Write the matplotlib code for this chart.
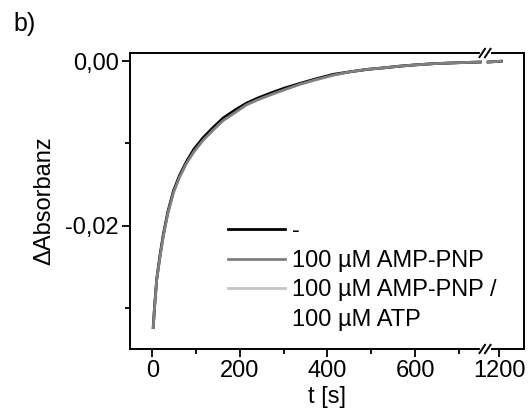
import numpy as np
import matplotlib
matplotlib.use("Agg")
import matplotlib.pyplot as plt
from matplotlib.lines import Line2D
from matplotlib.ticker import FixedLocator, FuncFormatter

plt.rcParams['font.family'] = ['Liberation Sans', 'DejaVu Sans']

# Zeitachse [s] (Teil vor dem Achsenbruch)
t_main = [2, 5, 10, 18, 25, 35, 48, 62, 78, 95, 116, 140, 162, 190, 215, 240,
          269, 300, 337, 370, 413, 450, 490, 530, 566, 600, 642, 700, 749]
# Teil nach dem Achsenbruch
t_end = [1175, 1190, 1205]

# Delta Absorbanz
y_ctrl = [-0.0324, -0.0299, -0.0265, -0.0234, -0.0211, -0.0184, -0.0158, -0.0139,
          -0.0122, -0.0107, -0.0093, -0.0080, -0.0069, -0.0059, -0.0051, -0.0045,
          -0.0039, -0.0033, -0.0027, -0.0022, -0.0016, -0.0013, -0.0010, -0.0008,
          -0.0006, -0.00045, -0.0003, -0.00018, -0.0001]
y_amp = [-0.0324, -0.0300, -0.0266, -0.0236, -0.0213, -0.0186, -0.0160, -0.0141,
         -0.0124, -0.0110, -0.0096, -0.0083, -0.0072, -0.0062, -0.0053, -0.0047,
         -0.0041, -0.0035, -0.0028, -0.0023, -0.0017, -0.0013, -0.0010, -0.0008,
         -0.0006, -0.00045, -0.0003, -0.00018, -0.0001]
y_atp = [-0.0324, -0.0300, -0.0266, -0.0236, -0.0213, -0.0186, -0.0160, -0.0141,
         -0.0124, -0.0110, -0.0096, -0.0083, -0.0072, -0.0062, -0.0053, -0.0047,
         -0.0041, -0.0035, -0.0028, -0.0023, -0.0017, -0.0013, -0.0010, -0.0008,
         -0.0006, -0.00045, -0.0003, -0.00018, -0.0001]
y_ctrl_end = [-0.0001, -0.00005, 0.0]
y_amp_end = [-0.0001, -0.00005, 0.0]
y_atp_end = [-0.0001, -0.00005, 0.0]

labels = ["-", "100 µM AMP-PNP", "100 µM AMP-PNP /", "100 µM ATP"]
x_major = [0, 200, 400, 600, 1200]
x_minor = [100, 300, 500, 700]


# gebrochene x-Achse: 760 s ... 1170 s wird zusammengestaucht
def fwd(t):
    t = np.asarray(t, dtype=float)
    return np.where(t <= 760, t, np.where(t < 1170, 760 + (t - 760) * 2 / 410, t - 408))


def inv(u):
    u = np.asarray(u, dtype=float)
    return np.where(u <= 760, u, np.where(u < 762, 760 + (u - 760) * 410 / 2, u + 408))


fs = 17
fig = plt.figure(figsize=(5.3, 4.13), dpi=100)
ax = fig.add_axes([0.2453, 0.155, 0.7434, 0.7167])
ax.set_xscale('function', functions=(fwd, inv))

lw = 2.0
ax.plot(t_main, y_atp, color="#c4c4c4", lw=lw)
ax.plot(t_end, y_atp_end, color="#c4c4c4", lw=lw)
ax.plot(t_main, y_ctrl, color="black", lw=lw)
ax.plot(t_end, y_ctrl_end, color="black", lw=lw)
ax.plot(t_main, y_amp, color="#808080", lw=lw)
ax.plot(t_end, y_amp_end, color="#808080", lw=lw)

ax.set_xlim(-51, 1257)
ax.set_ylim(-0.035, 0.001)

ax.xaxis.set_major_locator(FixedLocator(x_major))
ax.xaxis.set_minor_locator(FixedLocator(x_minor))
ax.yaxis.set_major_locator(FixedLocator([0.0, -0.02]))
ax.yaxis.set_minor_locator(FixedLocator([-0.01, -0.03]))
ax.xaxis.set_major_formatter(FuncFormatter(lambda v, p: "%d" % round(v)))
ax.yaxis.set_major_formatter(FuncFormatter(lambda v, p: ("%.2f" % v).replace(".", ",").replace("-0,00", "0,00")))

ax.tick_params(which='major', direction='out', length=6, width=1.3, labelsize=fs, pad=2)
ax.tick_params(which='minor', direction='out', length=3.5, width=1.3)
for s in ax.spines.values():
    s.set_linewidth(1.4)

ax.set_xlabel("t [s]", fontsize=fs, labelpad=3)
ax.set_ylabel("ΔAbsorbanz", fontsize=fs, labelpad=7)

# Achsenbruch-Markierung
for yb in (0, 1):
    ax.plot([0.893, 0.912], [yb, yb], transform=ax.transAxes, color="white",
            lw=3, clip_on=False, zorder=5)
    for xb in (0.894, 0.908):
        ax.plot([xb - 0.007, xb + 0.007], [yb - 0.014, yb + 0.014], transform=ax.transAxes,
                color="black", lw=1.4, clip_on=False, zorder=6)

handles = [Line2D([], [], color="black", lw=lw),
           Line2D([], [], color="#808080", lw=lw),
           Line2D([], [], color="#c4c4c4", lw=lw),
           Line2D([], [], color="none", lw=0)]
ax.legend(handles, labels, loc='upper left', bbox_to_anchor=(0.249, 0.435),
          frameon=False, fontsize=fs, handlelength=2.4, handletextpad=0.3,
          labelspacing=0.32, borderpad=0, borderaxespad=0)

fig.text(0.025, 0.97, "b)", fontsize=18, va='top', ha='left')

fig.savefig("out.png", dpi=100)
